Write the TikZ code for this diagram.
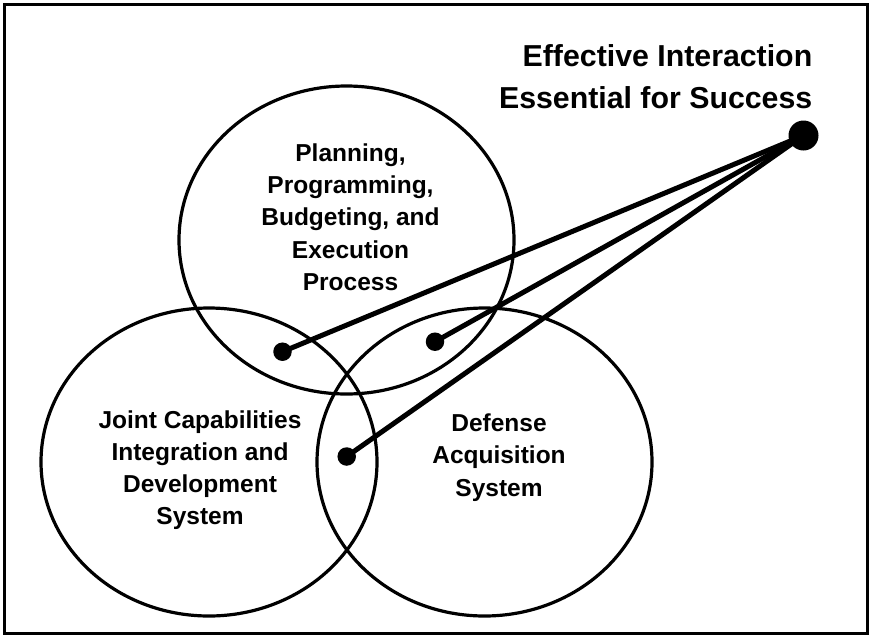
\documentclass[tikz,border=0pt]{standalone}
\usepackage{fontspec}
\setmainfont{Liberation Sans}
\begin{document}
\begin{tikzpicture}[x=1pt,y=-1pt,
  frame/.style={draw=black,line width=2.7pt},
  venn/.style={draw=black,line width=3.2pt},
  link/.style={draw=black,line width=5pt,line cap=round},
  smalldot/.style={circle,fill=black,inner sep=0pt,minimum size=18.5pt},
  bigdot/.style={circle,fill=black,inner sep=0pt,minimum size=30pt},
  label/.style={inner sep=0pt,font=\bfseries}]
\useasboundingbox (0,0) rectangle (869,635);
\draw[frame] (4.5,4.5) rectangle (867.5,633.5);
% ellipses
\draw[venn] (346.5,240) ellipse [x radius=167.5, y radius=154];
\draw[venn] (209,462) ellipse [x radius=168, y radius=154];
\draw[venn] (484.5,462) ellipse [x radius=167.5, y radius=154];
% texts
\node[label,anchor=base] (ppbe) at (350.5,161.7)
  {\parbox[t]{220pt}{\centering\fontsize{24.5}{32.1}\selectfont Planning,\\Programming,\\Budgeting, and\\Execution\\Process}};
\node[label,anchor=base] (jcids) at (200,428.3)
  {\parbox[t]{240pt}{\centering\fontsize{24.5}{32.2}\selectfont Joint Capabilities\\Integration and\\Development\\System}};
\node[label,anchor=base] (das) at (499,431.7)
  {\parbox[t]{200pt}{\centering\fontsize{24.5}{32.2}\selectfont Defense\\Acquisition\\System}};
\node[label,anchor=base east] (title) at (812.5,66.7)
  {\parbox[t]{400pt}{\raggedleft\fontsize{30.3}{41.6}\selectfont Effective Interaction\\Essential for Success}};
% dots
\node[bigdot] (hub) at (803.5,135.5) {};
\node[smalldot] (d1) at (282.5,351.7) {};
\node[smalldot] (d2) at (435,341.7) {};
\node[smalldot] (d3) at (346.7,456.5) {};
% connectors
\draw[link] (hub.center) -- (d1.center);
\draw[link] (hub.center) -- (d2.center);
\draw[link] (hub.center) -- (d3.center);
\end{tikzpicture}
\end{document}
